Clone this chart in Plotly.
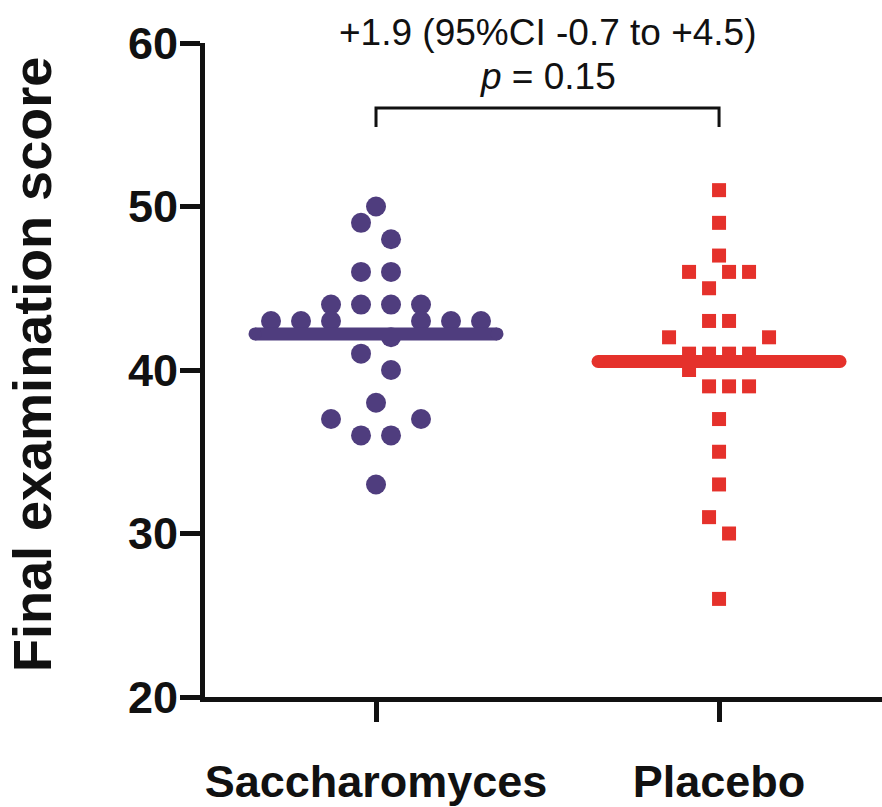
import plotly.graph_objects as go
import numpy as np

# ---------------- data ----------------
categories = ["Saccharomyces", "Placebo"]

sacch_scores = [50, 49, 48, 46, 46, 44, 44, 44, 44, 43, 43, 43, 43, 43, 43,
                42, 41, 40, 38, 37, 37, 36, 36, 33]
# swarm column of each point (half-steps left/right of the category centre)
sacch_cols = [0, -1, 1, -1, 1, -3, -1, 1, 3, -7, -5, -3, 3, 5, 7,
              1, -1, 1, 0, -3, 3, -1, 1, 0]

placebo_scores = [51, 49, 47, 46, 46, 46, 45, 43, 43, 42, 42, 41, 41, 41, 41,
                  40, 39, 39, 39, 37, 35, 33, 31, 30, 26]
placebo_cols = [0, 0, 0, -3, 1, 3, -1, -1, 1, -5, 5, -3, -1, 1, 3,
                -3, -1, 1, 3, 0, 0, 0, -1, 1, 0]

y_ticks = [20, 30, 40, 50, 60]
diff_text = "+1.9 (95%CI -0.7 to +4.5)"
p_text = "<i>p</i> = 0.15"

# ---------------- layout geometry ----------------
W, H = 882, 807
ML, MR, MT, MB = 205, 0, 43, 110
plot_w = W - ML - MR
plot_h = H - MT - MB
x_range = [-0.4985, 1.475]
px_per_x = plot_w / (x_range[1] - x_range[0])
y_range = [20, 60]
px_per_y = plot_h / (y_range[1] - y_range[0])

purple = "#4F3D7E"
red = "#E5312B"
FONT = "Liberation Sans, Arial, sans-serif"

fig = go.Figure()

# dots
sx = [0 + c * 15 / px_per_x for c in sacch_cols]
px_ = [1 + c * 10 / px_per_x for c in placebo_cols]
fig.add_trace(go.Scatter(x=sx, y=sacch_scores, mode="markers",
                         marker=dict(symbol="circle", size=20, color=purple,
                                     line=dict(width=0)),
                         showlegend=False, hoverinfo="y"))
fig.add_trace(go.Scatter(x=px_, y=placebo_scores, mode="markers",
                         marker=dict(symbol="square", size=14, color=red,
                                     line=dict(width=0)),
                         showlegend=False, hoverinfo="y"))

# mean lines (with rounded ends)
half = 121 / px_per_x
for i, (vals, col) in enumerate([(sacch_scores, purple), (placebo_scores, red)]):
    m = float(np.mean(vals))
    fig.add_trace(go.Scatter(x=[i - half, i + half], y=[m, m], mode="lines+markers",
                             line=dict(color=col, width=13),
                             marker=dict(symbol="circle", size=13, color=col,
                                         line=dict(width=0)),
                             showlegend=False, hoverinfo="skip"))

# comparison bracket
top_y = y_range[1] - (108 - MT) / px_per_y
bot_y = y_range[1] - (127 - MT) / px_per_y
fig.add_trace(go.Scatter(x=[0, 0, 1, 1], y=[bot_y, top_y, top_y, bot_y], mode="lines",
                         line=dict(color="#111111", width=3),
                         showlegend=False, hoverinfo="skip", cliponaxis=False))

fig.add_annotation(x=0.5, xref="x", y=1 + (MT - 32) / plot_h, yref="paper",
                   text=diff_text, showarrow=False, xanchor="center", yanchor="middle",
                   font=dict(family=FONT, size=37, color="#111111"))
fig.add_annotation(x=0.5, xref="x", y=1 - (76 - MT) / plot_h, yref="paper",
                   text=p_text, showarrow=False, xanchor="center", yanchor="middle",
                   font=dict(family=FONT, size=37, color="#111111"))

# y-axis title
fig.add_annotation(x=-(ML - 32) / plot_w, xref="paper", y=1 - (365 - MT) / plot_h, yref="paper",
                   text="Final examination score", textangle=-90, showarrow=False,
                   xanchor="center", yanchor="middle",
                   font=dict(family=FONT, size=54, color="#111111", weight="bold"))

fig.update_layout(
    width=W, height=H,
    margin=dict(l=ML, r=MR, t=MT, b=MB, pad=0, autoexpand=False),
    plot_bgcolor="white", paper_bgcolor="white",
    xaxis=dict(range=x_range, tickmode="array", tickvals=[0, 1], ticktext=categories,
               automargin=False,
               showgrid=False, zeroline=False, showline=True, linewidth=5,
               linecolor="#111111", ticks="outside", ticklen=20, tickwidth=5,
               tickcolor="#111111", ticklabelstandoff=21,
               tickfont=dict(family=FONT, size=45, color="#111111", weight="bold")),
    yaxis=dict(range=y_range, tickmode="array", tickvals=y_ticks,
               automargin=False,
               showgrid=False, zeroline=False, showline=True, linewidth=5,
               linecolor="#111111", ticks="outside", ticklen=20, tickwidth=5,
               tickcolor="#111111", ticklabelstandoff=-7,
               tickfont=dict(family=FONT, size=45, color="#111111", weight="bold")),
)

fig.write_html("out.html",
               config={"displayModeBar": False},
               post_script="document.body.style.margin='0';document.body.style.overflow='hidden';")
